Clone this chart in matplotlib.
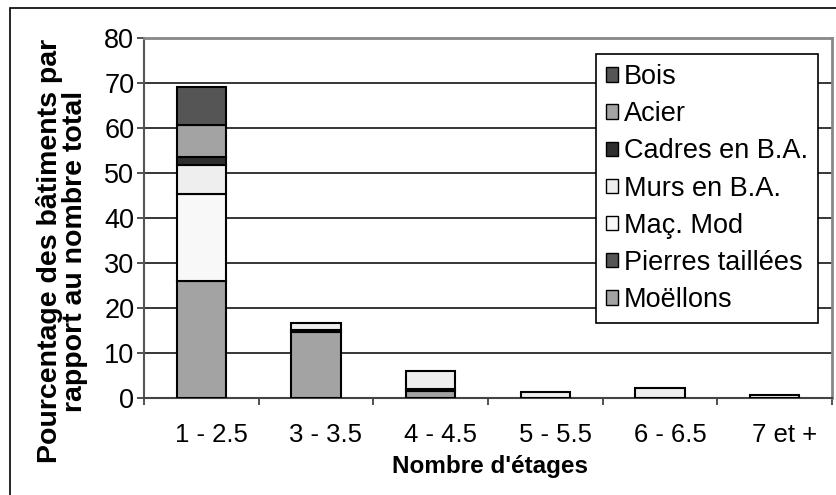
import numpy as np
import matplotlib
matplotlib.use('Agg')
import matplotlib.pyplot as plt
import matplotlib.transforms as mtransforms
from matplotlib.patches import Rectangle

plt.rcParams['font.family'] = ['Liberation Sans', 'DejaVu Sans']

# Données (%)
etages = ['1 - 2.5', '3 - 3.5', '4 - 4.5', '5 - 5.5', '6 - 6.5', '7 et +']
moellons = [26.1, 14.6, 1.6, 0.0, 0.0, 0.0]
pierres = [0.0, 0.6, 0.5, 0.0, 0.0, 0.0]
mac_mod = [19.2, 0.0, 0.0, 0.0, 0.0, 0.0]
murs_ba = [6.5, 1.5, 3.9, 1.4, 2.3, 0.6]
cadres_ba = [1.7, 0.0, 0.0, 0.0, 0.0, 0.0]
acier = [7.2, 0.0, 0.0, 0.0, 0.0, 0.0]
bois = [8.3, 0.0, 0.0, 0.0, 0.0, 0.0]

series = [
    ('Moëllons', moellons, '#a3a3a3'),
    ('Pierres taillées', pierres, '#555555'),
    ('Maç. Mod', mac_mod, '#f8f8f8'),
    ('Murs en B.A.', murs_ba, '#eeeeee'),
    ('Cadres en B.A.', cadres_ba, '#2e2e2e'),
    ('Acier', acier, '#a3a3a3'),
    ('Bois', bois, '#555555'),
]

fig = plt.figure(figsize=(8.37, 4.95), dpi=100)
ax = fig.add_axes([144 / 837, 1 - 398 / 495, 688 / 837, 360 / 495])

x = np.arange(len(etages))
bottom = np.zeros(len(etages))
handles = []
for name, vals, col in series:
    vals = np.array(vals)
    mask = vals > 0
    ax.bar(x[mask], vals[mask], 0.43, bottom=bottom[mask], color=col,
           edgecolor='black', linewidth=1.5, zorder=3)
    handles.append(Rectangle((0, 0), 1, 1, facecolor=col, edgecolor='black', linewidth=1.0))
    bottom += vals

ax.set_xlim(-0.5, 5.5)
ax.set_ylim(0, 80)
ax.set_yticks(range(0, 81, 10))
ax.set_xticks(x)
ax.set_xticklabels(etages, fontsize=18.5)
ax.set_xticks(np.arange(-0.5, 6, 1), minor=True)
ax.tick_params(axis='x', which='major', length=0, pad=18)
ax.tick_params(axis='x', which='minor', length=5, width=1.2, direction='out', color='#333333')
ax.tick_params(axis='y', length=5, width=1.2, labelsize=19.5, pad=2, color='#333333')

# étiquettes décalées un peu vers la droite comme dans Excel
offset = mtransforms.ScaledTranslation(10 / 100, 0, fig.dpi_scale_trans)
for lab in ax.get_xticklabels():
    lab.set_transform(lab.get_transform() + offset)

ax.grid(axis='y', color='black', linewidth=1.1, zorder=0)
ax.set_axisbelow(True)
for side in ['top', 'right']:
    ax.spines[side].set_color('#888888')
    ax.spines[side].set_linewidth(2)
ax.spines['left'].set_color('#555555')
ax.spines['left'].set_linewidth(1.5)
ax.spines['bottom'].set_color('#444444')
ax.spines['bottom'].set_linewidth(1.5)

ax.set_ylabel('Pourcentage des bâtiments par\nrapport au nombre total',
              fontsize=20.5, fontweight='bold', linespacing=0.95)
ax.yaxis.set_label_coords((88 - 144) / 688, (398 - 251) / 360)
ax.set_xlabel("Nombre d'étages", fontsize=17.5, fontweight='bold')
ax.xaxis.set_label_coords((490 - 144) / 688, -(466 - 398) / 360)
ax.xaxis.label.set_va('center')

leg = ax.legend(handles[::-1], [s[0] for s in series][::-1],
                loc='upper right', bbox_to_anchor=(818 / 837, 1 - 54 / 495),
                bbox_transform=fig.transFigure, fontsize=19.5, frameon=True,
                fancybox=False, edgecolor='black', framealpha=1,
                handlelength=0.45, handleheight=0.45, handletextpad=0.2,
                labelspacing=0.41, borderpad=0.38, borderaxespad=0)
leg.get_frame().set_linewidth(1.2)
leg.set_zorder(5)

# cadre extérieur du graphique
fig.patches.append(Rectangle((10 / 837, -0.05), 2, 1.05 - 8 / 495,
                             transform=fig.transFigure, fill=False,
                             edgecolor='black', linewidth=1.2))

fig.savefig('out.png', dpi=100)
